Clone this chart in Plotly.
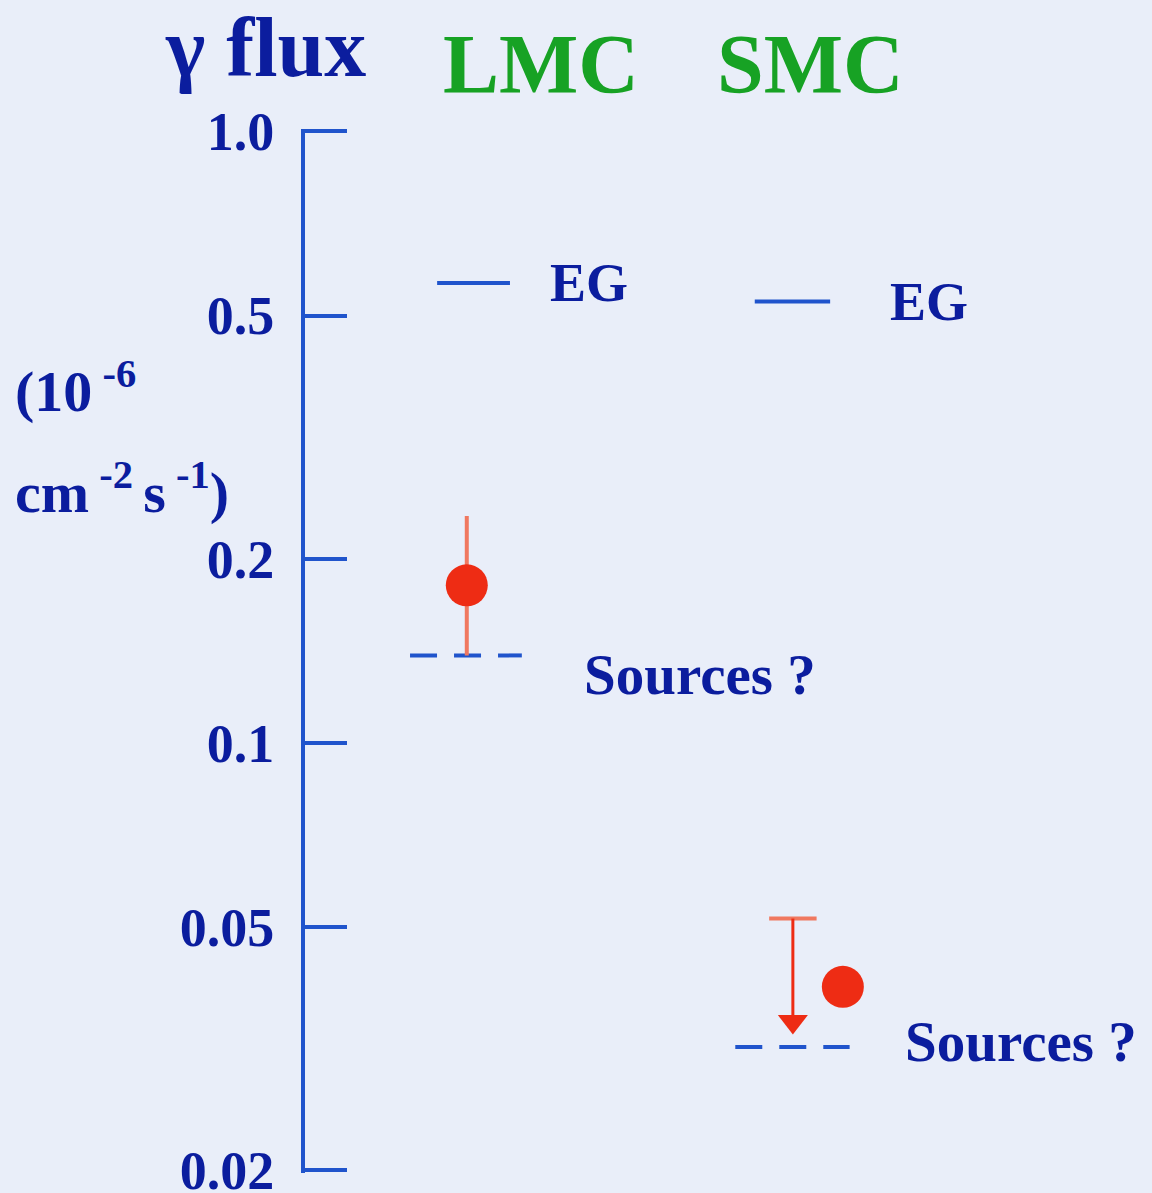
import math
import plotly.graph_objects as go

# ---- values (flux in 1e-6 cm^-2 s^-1) ----
galaxies = ["LMC", "SMC"]
eg_flux = [0.565, 0.527]            # extragalactic background level
lmc_flux = 0.181                    # LMC measurement
lmc_err_plus = 0.235 - 0.181
lmc_err_minus = 0.181 - 0.139
smc_flux = 0.0399                   # SMC point
smc_upper_limit = 0.0516            # SMC upper limit (top of the arrow)
smc_limit_tip = 0.0335              # arrow tip
sources_flux = [0.139, 0.0318]      # unresolved source contribution
tick_vals = [1.0, 0.5, 0.2, 0.1, 0.05, 0.02]
tick_text = ["1.0", "0.5", "0.2", "0.1", "0.05", "0.02"]

# ---- style ----
BG = "#e9eef9"
AXIS_BLUE = "#2054cc"
NAVY = "#0b1d9e"
GREEN = "#17a224"
RED = "#ee2c14"
SALMON = "#f07860"
FONT = "Liberation Serif"

# horizontal placement (x axis runs 0..1 across the plot area)
col_x = {"LMC": 0.191, "SMC": 0.576}
smc_point_x = 0.635

fig = go.Figure()

# EG levels
eg_spans = {"LMC": (0.156, 0.242), "SMC": (0.531, 0.620)}
eg_label_x = {"LMC": 0.287, "SMC": 0.688}
for g, v in zip(galaxies, eg_flux):
    x0, x1 = eg_spans[g]
    fig.add_trace(go.Scatter(x=[x0, x1], y=[v, v], mode="lines",
                             line=dict(color=AXIS_BLUE, width=4),
                             showlegend=False, hoverinfo="skip"))
    # annotations on a log axis take log10 coordinates
    fig.add_annotation(x=eg_label_x[g], y=math.log10(v), xref="x", yref="y", text="EG",
                       showarrow=False, xanchor="left", yanchor="middle",
                       font=dict(family=FONT, size=54, color=NAVY, weight="bold"))

# source levels (dashed)
src_spans = {"LMC": (0.124, 0.256), "SMC": (0.508, 0.643)}
src_label = {"LMC": (0.327, 0.1295), "SMC": (0.706, 0.0325)}
for g, v in zip(galaxies, sources_flux):
    x0, x1 = src_spans[g]
    fig.add_trace(go.Scatter(x=[x0, x1], y=[v, v], mode="lines",
                             line=dict(color=AXIS_BLUE, width=4, dash="27px,17px"),
                             showlegend=False, hoverinfo="skip"))
    lx, ly = src_label[g]
    fig.add_annotation(x=lx, y=math.log10(ly), xref="x", yref="y", text="Sources ?",
                       showarrow=False, xanchor="left", yanchor="middle",
                       font=dict(family=FONT, size=57, color=NAVY, weight="bold"))

# LMC measurement with error bar
fig.add_trace(go.Scatter(x=[col_x["LMC"]], y=[lmc_flux], mode="markers",
                         marker=dict(color=RED, size=42, line=dict(width=0)),
                         error_y=dict(type="data", symmetric=False,
                                      array=[lmc_err_plus], arrayminus=[lmc_err_minus],
                                      color=SALMON, thickness=4, width=0),
                         showlegend=False, hoverinfo="skip"))

# SMC upper limit: cap, shaft and arrow head
sx = col_x["SMC"]
fig.add_trace(go.Scatter(x=[sx - 0.028, sx + 0.028], y=[smc_upper_limit, smc_upper_limit],
                         mode="lines", line=dict(color=SALMON, width=4),
                         showlegend=False, hoverinfo="skip"))
fig.add_trace(go.Scatter(x=[sx, sx], y=[smc_upper_limit, smc_limit_tip * 1.06],
                         mode="lines", line=dict(color=RED, width=3),
                         showlegend=False, hoverinfo="skip"))
fig.add_trace(go.Scatter(x=[sx], y=[smc_limit_tip * 1.045], mode="markers",
                         marker=dict(symbol="triangle-down", color=RED, size=26,
                                     line=dict(width=0)),
                         showlegend=False, hoverinfo="skip"))

# SMC point
fig.add_trace(go.Scatter(x=[smc_point_x], y=[smc_flux], mode="markers",
                         marker=dict(color=RED, size=42, line=dict(width=0)),
                         showlegend=False, hoverinfo="skip"))

# headings
fig.add_annotation(x=-0.047, y=1.078, xref="paper", yref="paper", text="γ flux",
                   showarrow=False, xanchor="center", yanchor="middle",
                   font=dict(family=FONT, size=84, color=NAVY, weight="bold"))
for g, px in zip(galaxies, [0.279, 0.597]):
    fig.add_annotation(x=px, y=1.062, xref="paper", yref="paper", text=g,
                       showarrow=False, xanchor="center", yanchor="middle",
                       font=dict(family=FONT, size=84, color=GREEN, weight="bold"))

# unit label
fig.add_annotation(x=-0.345, y=0.752, xref="paper", yref="paper",
                   text="(10<sup> -6</sup>", showarrow=False, xanchor="left", yanchor="middle",
                   font=dict(family=FONT, size=58, color=NAVY, weight="bold"))
fig.add_annotation(x=-0.345, y=0.656, xref="paper", yref="paper",
                   text="cm<sup> -2 </sup>s<sup> -1</sup>)", showarrow=False,
                   xanchor="left", yanchor="middle",
                   font=dict(family=FONT, size=58, color=NAVY, weight="bold"))

fig.update_layout(
    width=1152, height=1193,
    margin=dict(l=305, r=0, t=129, b=20, autoexpand=False),
    paper_bgcolor=BG, plot_bgcolor=BG,
    showlegend=False,
    xaxis=dict(range=[0, 1], visible=False, fixedrange=True),
    yaxis=dict(type="log", range=[-1.7035, 0.004], automargin=False,
               showline=True, linecolor=AXIS_BLUE, linewidth=4,
               ticks="inside", ticklen=42, tickwidth=4, tickcolor=AXIS_BLUE,
               tickvals=tick_vals, ticktext=tick_text, ticklabelstandoff=16,
               ticklabeloverflow="allow",
               tickfont=dict(family=FONT, size=54, color=NAVY, weight="bold"),
               showgrid=False, zeroline=False, fixedrange=True),
)

fig.write_html("out.html")
